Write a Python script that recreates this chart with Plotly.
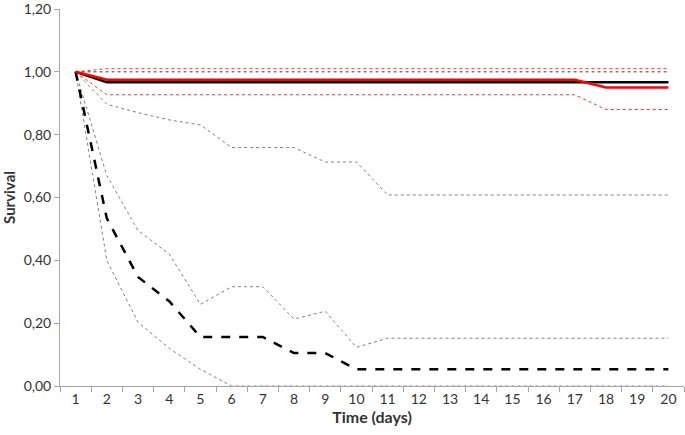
import plotly.graph_objects as go

days = list(range(1, 21))

red_dot_upper = [1.0] + [1.01] * 19
black_dot_one = [1.0] * 20
red_solid = [1.0] + [0.975] * 16 + [0.95] * 3
black_solid = [1.0] + [0.967] * 19
red_dot_lower = [1.0] + [0.927] * 16 + [0.88] * 3
grey_upper = [1.0, 0.897, 0.87, 0.847, 0.831, 0.759, 0.759, 0.759, 0.713, 0.713] + [0.608] * 10
grey_mid = [1.0, 0.67, 0.495, 0.42, 0.26, 0.316, 0.316, 0.213, 0.238, 0.123] + [0.152] * 10
black_dash = [1.0, 0.534, 0.347, 0.27, 0.156, 0.156, 0.156, 0.105, 0.105, 0.053] + [0.053] * 10
grey_lower = [1.0, 0.40, 0.203, 0.12, 0.053] + [0.0] * 15

y_ticks = [0.0, 0.2, 0.4, 0.6, 0.8, 1.0, 1.2]

series = [
    (grey_lower, dict(color="#808080", width=1, dash="dot")),
    (grey_mid, dict(color="#808080", width=1, dash="dot")),
    (grey_upper, dict(color="#808080", width=1, dash="dot")),
    (black_dash, dict(color="black", width=2.5, dash="dash")),
    (red_dot_lower, dict(color="#ff3030", width=1, dash="dot")),
    (red_dot_upper, dict(color="#ff3030", width=1, dash="dot")),
    (black_dot_one, dict(color="#404040", width=1, dash="dot")),
    (black_solid, dict(color="black", width=2.5)),
    (red_solid, dict(color="#ff0000", width=2.5)),
]

fig = go.Figure()
for ys, ln in series:
    fig.add_trace(go.Scatter(x=days, y=ys, mode="lines", line=ln, showlegend=False,
                             cliponaxis=False))

font_family = "Lato, Open Sans, sans-serif"
fig.update_layout(
    width=685, height=435,
    margin=dict(l=60, r=1, t=9, b=49, autoexpand=False),
    plot_bgcolor="white", paper_bgcolor="white",
    separators=", ",
    font=dict(family=font_family, size=13, color="#333333"),
    xaxis=dict(
        range=[0.5, 20.5], tickvals=days, ticktext=[str(d) for d in days],
        ticks="", showgrid=False, zeroline=False, automargin=False,
        ticklabeloverflow="allow",
        showline=True, linecolor="#a6a6a6", linewidth=1,
        minor=dict(tick0=0.5, dtick=1, ticks="outside", ticklen=5, tickcolor="#a6a6a6", showgrid=False),
        tickfont=dict(size=14, color="#333333"),
        title=dict(text="<b>Time (days)</b>", font=dict(size=16, color="#333333"), standoff=0),
    ),
    yaxis=dict(
        range=[0, 1.2], tickvals=y_ticks, tickformat=".2f",
        ticks="outside", ticklen=5, tickcolor="#a6a6a6",
        showgrid=False, zeroline=False, automargin=False,
        ticklabeloverflow="allow",
        showline=True, linecolor="#a6a6a6", linewidth=1,
        tickfont=dict(size=14, color="#333333"),
        title=dict(text="<b>Survival</b>", font=dict(size=15, color="#333333"), standoff=4),
    ),
)

fig.write_html("out.html", post_script="document.body.style.margin='0';",
               config={"displayModeBar": False})
